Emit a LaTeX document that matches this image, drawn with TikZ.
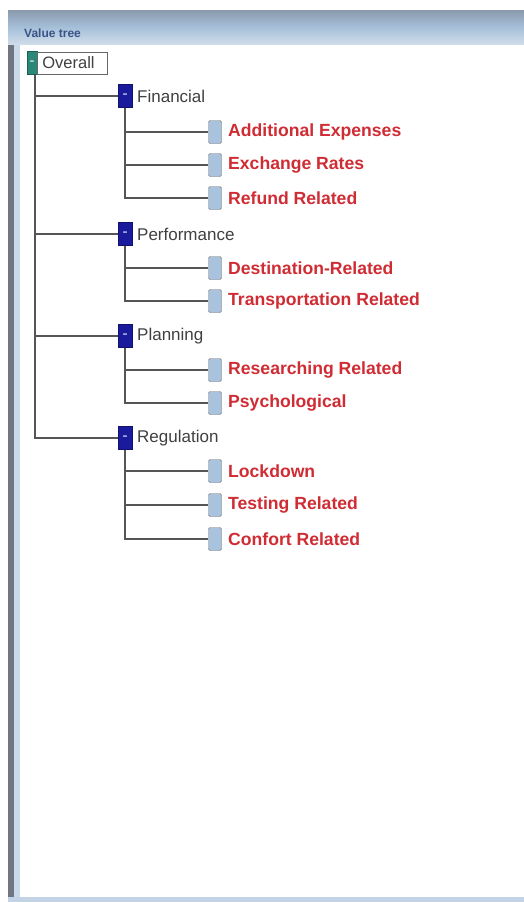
\documentclass[tikz,border=0pt]{standalone}
\usepackage{fontspec}
\setmainfont{Liberation Sans}
\definecolor{pblue}{HTML}{1A1A9C}
\definecolor{cblue}{HTML}{A9C3DF}
\definecolor{cred}{HTML}{D02C34}
\definecolor{linegray}{HTML}{555555}
\definecolor{teal}{HTML}{2A8878}
\definecolor{bartop}{HTML}{8A9AAC}
\definecolor{barmid}{HTML}{A6C0DA}
\definecolor{barbot}{HTML}{D2DEEA}
\definecolor{titleblue}{HTML}{3A5488}
\definecolor{bordergray}{HTML}{6E7682}
\begin{document}
\begin{tikzpicture}[x=1pt,y=-1pt,
  pbox/.style={fill=pblue, draw=pblue!70!black, minimum width=14pt, minimum height=23pt, inner sep=0pt, text=white!60!pblue, font=\fontsize{15}{15}\selectfont\bfseries},
  obox/.style={fill=teal, draw=teal!70!black, minimum width=10pt, minimum height=23pt, inner sep=0pt, text=white!60!teal, font=\fontsize{15}{15}\selectfont\bfseries},
  cbox/.style={fill=cblue, draw=gray!90!black, rounded corners=1.5pt, minimum width=13pt, minimum height=23pt, inner sep=0pt},
  ptext/.style={anchor=west, inner sep=0pt, font=\fontsize{17}{17}\selectfont, text=black!75},
  ctext/.style={anchor=west, inner sep=0pt, font=\fontsize{17.6}{17.6}\selectfont\bfseries, text=cred},
  link/.style={draw=linegray, line width=1.1pt}]
\useasboundingbox (0,0) rectangle (524,902);
% window
\fill[white] (0,0) rectangle (524,902);
\shade[top color=bartop, bottom color=barbot, middle color=barmid] (8,10) rectangle (524,45);
\fill[white] (20,45) rectangle (524,897);
\fill[bordergray] (8,45) rectangle (14,898);
\fill[barmid!60!white] (14,45) rectangle (20,898);
\fill[barmid!70!white] (8,897) rectangle (524,902);
\node[anchor=west, inner sep=0pt, font=\fontsize{12}{12}\selectfont\bfseries, text=titleblue] (title) at (24,33) {Value tree};
% root
\node[obox] (ovb) at (32,63) {-};
\node[draw=black!60, anchor=west, minimum height=22pt, inner sep=0pt, text width=70pt, font=\fontsize{16.5}{16.5}\selectfont, text=black!75] (ovt) at (ovb.east) {\hspace{5pt}Overall};
% parents
\node[pbox] (fin) at (125,96) {-};
\node[ptext] (fint) at (137,96) {Financial};
\node[pbox] (per) at (125,234) {-};
\node[ptext] (pert) at (137,234) {Performance};
\node[pbox] (pla) at (125,336) {-};
\node[ptext] (plat) at (137,336) {Planning};
\node[pbox] (reg) at (125,438) {-};
\node[ptext] (regt) at (137,438) {Regulation};
% children
\foreach \n/\y/\t in {a/132/Additional Expenses, b/165/Exchange Rates, c/198/Refund Related,
  d/268/Destination-Related, e/301/Transportation Related,
  f/370/Researching Related, g/403/Psychological,
  h/471/Lockdown, i/505/Testing Related, j/539/Confort Related}{
  \node[cbox] (\n) at (215,\y) {};
  \node[ctext] (\n t) at (228,\y) {\t};
}
% root connectors
\coordinate (rootx) at (35,0);
\draw[link] (rootx |- ovb.south) |- (reg.west);
\foreach \p in {fin,per,pla}{\draw[link] (rootx |- \p.west) -- (\p.west);}
% child connectors
\draw[link] (fin.south) |- (c.west);
\foreach \c in {a,b}{\draw[link] (fin.south |- \c.west) -- (\c.west);}
\draw[link] (per.south) |- (e.west);
\draw[link] (per.south |- d.west) -- (d.west);
\draw[link] (pla.south) |- (g.west);
\draw[link] (pla.south |- f.west) -- (f.west);
\draw[link] (reg.south) |- (j.west);
\foreach \c in {h,i}{\draw[link] (reg.south |- \c.west) -- (\c.west);}
\end{tikzpicture}
\end{document}
